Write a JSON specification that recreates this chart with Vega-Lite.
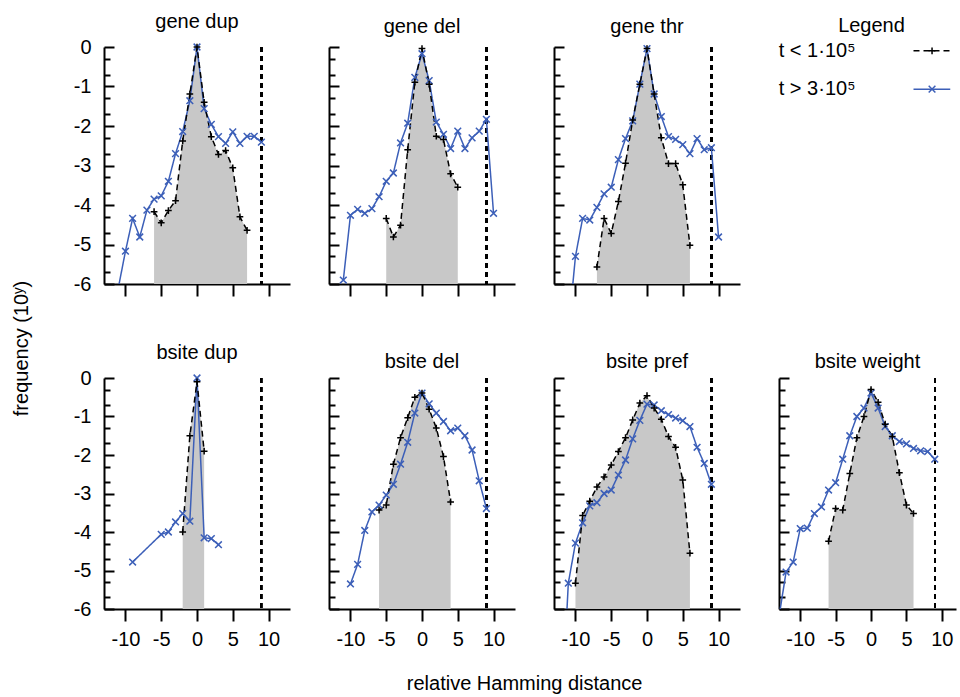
{
  "$schema": "https://vega.github.io/schema/vega-lite/v6.json",
  "padding": {"left": 12, "top": 12, "right": 0, "bottom": 0},
  "config": {
    "view": {"stroke": null},
    "font": "Liberation Sans",
    "axis": {"domainColor": "black", "domainWidth": 2, "tickColor": "black", "tickWidth": 2, "labelFontSize": 20, "labelColor": "black", "labelFont": "Liberation Sans", "grid": false, "labelOverlap": false, "labelFlush": false, "labelBound": false},
    "title": {"fontSize": 20, "fontWeight": "normal", "font": "Liberation Sans", "color": "black", "frame": "group", "baseline": "alphabetic", "offset": 5},
    "legend": {"disable": true}
  },
  "datasets": {
    "d": [
      {"p":"gene dup","s":"l","x":-11,"y":-6.1},{"p":"gene dup","s":"l","x":-10,"y":-5.17},{"p":"gene dup","s":"l","x":-9,"y":-4.34},{"p":"gene dup","s":"l","x":-8,"y":-4.81},{"p":"gene dup","s":"l","x":-7,"y":-4.13},{"p":"gene dup","s":"l","x":-6,"y":-3.85},{"p":"gene dup","s":"l","x":-5,"y":-3.77},{"p":"gene dup","s":"l","x":-4,"y":-3.4},{"p":"gene dup","s":"l","x":-3,"y":-2.7},{"p":"gene dup","s":"l","x":-2,"y":-2.14},{"p":"gene dup","s":"l","x":-1,"y":-1.36},{"p":"gene dup","s":"l","x":0,"y":0},{"p":"gene dup","s":"l","x":1,"y":-1.56},{"p":"gene dup","s":"l","x":2,"y":-1.96},{"p":"gene dup","s":"l","x":3,"y":-2.27},{"p":"gene dup","s":"l","x":4,"y":-2.44},{"p":"gene dup","s":"l","x":5,"y":-2.15},{"p":"gene dup","s":"l","x":6,"y":-2.44},{"p":"gene dup","s":"l","x":7,"y":-2.26},{"p":"gene dup","s":"l","x":8,"y":-2.26},{"p":"gene dup","s":"l","x":9,"y":-2.41},
      {"p":"gene dup","s":"e","x":-6,"y":-4.17},{"p":"gene dup","s":"e","x":-5,"y":-4.45},{"p":"gene dup","s":"e","x":-4,"y":-4.14},{"p":"gene dup","s":"e","x":-3,"y":-3.89},{"p":"gene dup","s":"e","x":-2,"y":-2.38},{"p":"gene dup","s":"e","x":-1,"y":-1.19},{"p":"gene dup","s":"e","x":0,"y":0},{"p":"gene dup","s":"e","x":1,"y":-1.4},{"p":"gene dup","s":"e","x":2,"y":-2.27},{"p":"gene dup","s":"e","x":3,"y":-2.72},{"p":"gene dup","s":"e","x":4,"y":-2.62},{"p":"gene dup","s":"e","x":5,"y":-3.06},{"p":"gene dup","s":"e","x":6,"y":-4.3},{"p":"gene dup","s":"e","x":7,"y":-4.64},
      {"p":"gene del","s":"l","x":-11,"y":-5.9},{"p":"gene del","s":"l","x":-10,"y":-4.26},{"p":"gene del","s":"l","x":-9,"y":-4.11},{"p":"gene del","s":"l","x":-8,"y":-4.21},{"p":"gene del","s":"l","x":-7,"y":-4.09},{"p":"gene del","s":"l","x":-6,"y":-3.79},{"p":"gene del","s":"l","x":-5,"y":-3.4},{"p":"gene del","s":"l","x":-4,"y":-3.19},{"p":"gene del","s":"l","x":-3,"y":-2.43},{"p":"gene del","s":"l","x":-2,"y":-1.93},{"p":"gene del","s":"l","x":-1,"y":-0.77},{"p":"gene del","s":"l","x":0,"y":-0.17},{"p":"gene del","s":"l","x":1,"y":-0.85},{"p":"gene del","s":"l","x":2,"y":-1.9},{"p":"gene del","s":"l","x":3,"y":-2.21},{"p":"gene del","s":"l","x":4,"y":-2.57},{"p":"gene del","s":"l","x":5,"y":-2.13},{"p":"gene del","s":"l","x":6,"y":-2.57},{"p":"gene del","s":"l","x":7,"y":-2.3},{"p":"gene del","s":"l","x":8,"y":-2.13},{"p":"gene del","s":"l","x":9,"y":-1.83},{"p":"gene del","s":"l","x":10,"y":-4.21},
      {"p":"gene del","s":"e","x":-5,"y":-4.34},{"p":"gene del","s":"e","x":-4,"y":-4.81},{"p":"gene del","s":"e","x":-3,"y":-4.51},{"p":"gene del","s":"e","x":-2,"y":-2.6},{"p":"gene del","s":"e","x":-1,"y":-0.89},{"p":"gene del","s":"e","x":0,"y":-0.04},{"p":"gene del","s":"e","x":1,"y":-0.94},{"p":"gene del","s":"e","x":2,"y":-2.26},{"p":"gene del","s":"e","x":3,"y":-2.34},{"p":"gene del","s":"e","x":4,"y":-3.21},{"p":"gene del","s":"e","x":5,"y":-3.55},
      {"p":"gene thr","s":"l","x":-11,"y":-7.2},{"p":"gene thr","s":"l","x":-10,"y":-5.3},{"p":"gene thr","s":"l","x":-9,"y":-4.34},{"p":"gene thr","s":"l","x":-8,"y":-4.38},{"p":"gene thr","s":"l","x":-7,"y":-4.06},{"p":"gene thr","s":"l","x":-6,"y":-3.72},{"p":"gene thr","s":"l","x":-5,"y":-3.55},{"p":"gene thr","s":"l","x":-4,"y":-2.85},{"p":"gene thr","s":"l","x":-3,"y":-2.32},{"p":"gene thr","s":"l","x":-2,"y":-1.87},{"p":"gene thr","s":"l","x":-1,"y":-0.94},{"p":"gene thr","s":"l","x":0,"y":-0.04},{"p":"gene thr","s":"l","x":1,"y":-1.19},{"p":"gene thr","s":"l","x":2,"y":-1.76},{"p":"gene thr","s":"l","x":3,"y":-2.27},{"p":"gene thr","s":"l","x":4,"y":-2.34},{"p":"gene thr","s":"l","x":5,"y":-2.47},{"p":"gene thr","s":"l","x":6,"y":-2.7},{"p":"gene thr","s":"l","x":7,"y":-2.32},{"p":"gene thr","s":"l","x":8,"y":-2.6},{"p":"gene thr","s":"l","x":9,"y":-2.55},{"p":"gene thr","s":"l","x":10,"y":-4.81},
      {"p":"gene thr","s":"e","x":-7,"y":-5.57},{"p":"gene thr","s":"e","x":-6,"y":-4.34},{"p":"gene thr","s":"e","x":-5,"y":-4.72},{"p":"gene thr","s":"e","x":-4,"y":-3.91},{"p":"gene thr","s":"e","x":-3,"y":-2.94},{"p":"gene thr","s":"e","x":-2,"y":-1.85},{"p":"gene thr","s":"e","x":-1,"y":-0.94},{"p":"gene thr","s":"e","x":0,"y":-0.04},{"p":"gene thr","s":"e","x":1,"y":-1.19},{"p":"gene thr","s":"e","x":2,"y":-2.3},{"p":"gene thr","s":"e","x":3,"y":-2.95},{"p":"gene thr","s":"e","x":4,"y":-2.95},{"p":"gene thr","s":"e","x":5,"y":-3.49},{"p":"gene thr","s":"e","x":6,"y":-5.02},
      {"p":"bsite dup","s":"l","x":-9,"y":-4.78},{"p":"bsite dup","s":"l","x":-5,"y":-4.06},{"p":"bsite dup","s":"l","x":-4,"y":-4.0},{"p":"bsite dup","s":"l","x":-3,"y":-3.74},{"p":"bsite dup","s":"l","x":-2,"y":-3.52},{"p":"bsite dup","s":"l","x":-1,"y":-3.72},{"p":"bsite dup","s":"l","x":0,"y":0},{"p":"bsite dup","s":"l","x":1,"y":-4.15},{"p":"bsite dup","s":"l","x":2,"y":-4.17},{"p":"bsite dup","s":"l","x":3,"y":-4.33},
      {"p":"bsite dup","s":"e","x":-2,"y":-4.0},{"p":"bsite dup","s":"e","x":-1,"y":-1.5},{"p":"bsite dup","s":"e","x":0,"y":-0.1},{"p":"bsite dup","s":"e","x":1,"y":-1.9},
      {"p":"bsite del","s":"l","x":-10,"y":-5.35},{"p":"bsite del","s":"l","x":-9,"y":-4.84},{"p":"bsite del","s":"l","x":-8,"y":-3.96},{"p":"bsite del","s":"l","x":-7,"y":-3.48},{"p":"bsite del","s":"l","x":-6,"y":-3.3},{"p":"bsite del","s":"l","x":-5,"y":-3.04},{"p":"bsite del","s":"l","x":-4,"y":-2.76},{"p":"bsite del","s":"l","x":-3,"y":-2.24},{"p":"bsite del","s":"l","x":-2,"y":-1.67},{"p":"bsite del","s":"l","x":-1,"y":-0.91},{"p":"bsite del","s":"l","x":0,"y":-0.39},{"p":"bsite del","s":"l","x":1,"y":-0.67},{"p":"bsite del","s":"l","x":2,"y":-0.91},{"p":"bsite del","s":"l","x":3,"y":-1.13},{"p":"bsite del","s":"l","x":4,"y":-1.37},{"p":"bsite del","s":"l","x":5,"y":-1.3},{"p":"bsite del","s":"l","x":6,"y":-1.5},{"p":"bsite del","s":"l","x":7,"y":-1.87},{"p":"bsite del","s":"l","x":8,"y":-2.67},{"p":"bsite del","s":"l","x":9,"y":-3.39},
      {"p":"bsite del","s":"e","x":-6,"y":-3.43},{"p":"bsite del","s":"e","x":-5,"y":-3.3},{"p":"bsite del","s":"e","x":-4,"y":-2.24},{"p":"bsite del","s":"e","x":-3,"y":-1.55},{"p":"bsite del","s":"e","x":-2,"y":-1.03},{"p":"bsite del","s":"e","x":-1,"y":-0.5},{"p":"bsite del","s":"e","x":0,"y":-0.39},{"p":"bsite del","s":"e","x":1,"y":-0.81},{"p":"bsite del","s":"e","x":2,"y":-1.3},{"p":"bsite del","s":"e","x":3,"y":-2.04},{"p":"bsite del","s":"e","x":4,"y":-3.22},
      {"p":"bsite pref","s":"l","x":-12,"y":-9},{"p":"bsite pref","s":"l","x":-11,"y":-5.33},{"p":"bsite pref","s":"l","x":-10,"y":-4.29},{"p":"bsite pref","s":"l","x":-9,"y":-3.76},{"p":"bsite pref","s":"l","x":-8,"y":-3.32},{"p":"bsite pref","s":"l","x":-7,"y":-3.24},{"p":"bsite pref","s":"l","x":-6,"y":-3.0},{"p":"bsite pref","s":"l","x":-5,"y":-2.91},{"p":"bsite pref","s":"l","x":-4,"y":-2.52},{"p":"bsite pref","s":"l","x":-3,"y":-2.13},{"p":"bsite pref","s":"l","x":-2,"y":-1.58},{"p":"bsite pref","s":"l","x":-1,"y":-1.1},{"p":"bsite pref","s":"l","x":0,"y":-0.68},{"p":"bsite pref","s":"l","x":1,"y":-0.7},{"p":"bsite pref","s":"l","x":2,"y":-0.85},{"p":"bsite pref","s":"l","x":3,"y":-0.95},{"p":"bsite pref","s":"l","x":4,"y":-1.04},{"p":"bsite pref","s":"l","x":5,"y":-1.11},{"p":"bsite pref","s":"l","x":6,"y":-1.26},{"p":"bsite pref","s":"l","x":7,"y":-1.8},{"p":"bsite pref","s":"l","x":8,"y":-2.22},{"p":"bsite pref","s":"l","x":9,"y":-2.76},
      {"p":"bsite pref","s":"e","x":-10,"y":-5.33},{"p":"bsite pref","s":"e","x":-9,"y":-3.57},{"p":"bsite pref","s":"e","x":-8,"y":-3.2},{"p":"bsite pref","s":"e","x":-7,"y":-2.83},{"p":"bsite pref","s":"e","x":-6,"y":-2.57},{"p":"bsite pref","s":"e","x":-5,"y":-2.26},{"p":"bsite pref","s":"e","x":-4,"y":-1.91},{"p":"bsite pref","s":"e","x":-3,"y":-1.55},{"p":"bsite pref","s":"e","x":-2,"y":-1.09},{"p":"bsite pref","s":"e","x":-1,"y":-0.65},{"p":"bsite pref","s":"e","x":0,"y":-0.46},{"p":"bsite pref","s":"e","x":1,"y":-0.78},{"p":"bsite pref","s":"e","x":2,"y":-1.07},{"p":"bsite pref","s":"e","x":3,"y":-1.52},{"p":"bsite pref","s":"e","x":4,"y":-1.8},{"p":"bsite pref","s":"e","x":5,"y":-2.65},{"p":"bsite pref","s":"e","x":6,"y":-4.55},
      {"p":"bsite weight","s":"l","x":-13,"y":-6.2},{"p":"bsite weight","s":"l","x":-12,"y":-5.04},{"p":"bsite weight","s":"l","x":-11,"y":-4.78},{"p":"bsite weight","s":"l","x":-10,"y":-3.91},{"p":"bsite weight","s":"l","x":-9,"y":-3.9},{"p":"bsite weight","s":"l","x":-8,"y":-3.52},{"p":"bsite weight","s":"l","x":-7,"y":-3.35},{"p":"bsite weight","s":"l","x":-6,"y":-2.91},{"p":"bsite weight","s":"l","x":-5,"y":-2.72},{"p":"bsite weight","s":"l","x":-4,"y":-2.11},{"p":"bsite weight","s":"l","x":-3,"y":-1.5},{"p":"bsite weight","s":"l","x":-2,"y":-1.0},{"p":"bsite weight","s":"l","x":-1,"y":-0.78},{"p":"bsite weight","s":"l","x":0,"y":-0.39},{"p":"bsite weight","s":"l","x":1,"y":-0.78},{"p":"bsite weight","s":"l","x":2,"y":-1.26},{"p":"bsite weight","s":"l","x":3,"y":-1.5},{"p":"bsite weight","s":"l","x":4,"y":-1.65},{"p":"bsite weight","s":"l","x":5,"y":-1.71},{"p":"bsite weight","s":"l","x":6,"y":-1.83},{"p":"bsite weight","s":"l","x":7,"y":-1.89},{"p":"bsite weight","s":"l","x":8,"y":-1.91},{"p":"bsite weight","s":"l","x":9,"y":-2.11},
      {"p":"bsite weight","s":"e","x":-6,"y":-4.24},{"p":"bsite weight","s":"e","x":-5,"y":-3.39},{"p":"bsite weight","s":"e","x":-4,"y":-3.43},{"p":"bsite weight","s":"e","x":-3,"y":-2.48},{"p":"bsite weight","s":"e","x":-2,"y":-1.55},{"p":"bsite weight","s":"e","x":-1,"y":-1.0},{"p":"bsite weight","s":"e","x":0,"y":-0.3},{"p":"bsite weight","s":"e","x":1,"y":-0.63},{"p":"bsite weight","s":"e","x":2,"y":-1.2},{"p":"bsite weight","s":"e","x":3,"y":-1.52},{"p":"bsite weight","s":"e","x":4,"y":-2.46},{"p":"bsite weight","s":"e","x":5,"y":-3.3},{"p":"bsite weight","s":"e","x":6,"y":-3.52}
    ],
    "leg": [
      {"s": "e", "label": "t < 1·10⁵"},
      {"s": "l", "label": "t > 3·10⁵"}
    ]
  },
  "title": {"text": "relative Hamming distance", "orient": "bottom", "anchor": "middle", "frame": "bounds", "baseline": "top", "offset": 25, "dx": 39},
  "vconcat": [
    {
      "title": {"text": "frequency (10ʸ)", "orient": "left", "anchor": "middle", "frame": "bounds", "offset": 41, "dx": -18},
      "spacing": 46,
      "vconcat": [
        {
          "spacing": 38,
          "hconcat": [
            {
              "width": 186, "height": 237, "title": "gene dup",
              "data": {"name": "d"},
              "transform": [{"filter": "datum.p === 'gene dup'"}],
              "encoding": {
                "x": {"field": "x", "type": "quantitative", "scale": {"domain": [-13, 13], "nice": false, "zero": false}, "axis": {"title": null, "values": [-10, -5, 0, 5, 10], "tickSize": 12, "labels": false}},
                "y": {"field": "y", "type": "quantitative", "scale": {"domain": [-6, 0], "nice": false, "zero": false}, "axis": {"title": null, "values": [0, -0.301, -0.699, -1, -1.301, -1.699, -2, -2.301, -2.699, -3, -3.301, -3.699, -4, -4.301, -4.699, -5, -5.301, -5.699, -6], "labelExpr": "datum.value % 1 === 0 ? '' + datum.value : ''", "tickSize": {"condition": {"test": "datum.value % 1 === 0", "value": -10}, "value": -6}, "labelPadding": 23, "labelBaseline": "middle"}}
              },
              "layer": [
                {"transform": [{"filter": "datum.s === 'e'"}], "mark": {"type": "area", "color": "#c8c8c8"}, "encoding": {"y2": {"datum": -6}}},
                {"mark": {"type": "rule", "color": "black", "strokeWidth": 1.5, "strokeDash": [5, 4]}, "encoding": {"x": {"datum": 9}, "y": {"datum": 0}, "y2": {"datum": -6}}},
                {"mark": {"type": "line", "strokeWidth": 1.5, "clip": true}, "encoding": {"color": {"field": "s", "type": "nominal", "scale": {"domain": ["e", "l"], "range": ["#000000", "#3c5fb8"]}}, "strokeDash": {"field": "s", "type": "nominal", "scale": {"domain": ["e", "l"], "range": [[6, 4], [1, 0]]}}}},
                {"transform": [{"filter": "datum.y >= -6"}], "mark": {"type": "point", "filled": false, "strokeWidth": 1.5, "size": 45, "opacity": 1}, "encoding": {"color": {"field": "s", "type": "nominal"}, "shape": {"field": "s", "type": "nominal", "scale": {"domain": ["e", "l"], "range": ["M-1,0H1M0,-1V1", "M-1,-1L1,1M-1,1L1,-1"]}}}}
              ]
            },
            {
              "width": 186, "height": 237, "title": "gene del",
              "data": {"name": "d"},
              "transform": [{"filter": "datum.p === 'gene del'"}],
              "encoding": {
                "x": {"field": "x", "type": "quantitative", "scale": {"domain": [-13, 13], "nice": false, "zero": false}, "axis": {"title": null, "values": [-10, -5, 0, 5, 10], "tickSize": 12, "labels": false}},
                "y": {"field": "y", "type": "quantitative", "scale": {"domain": [-6, 0], "nice": false, "zero": false}, "axis": {"title": null, "values": [0, -0.301, -0.699, -1, -1.301, -1.699, -2, -2.301, -2.699, -3, -3.301, -3.699, -4, -4.301, -4.699, -5, -5.301, -5.699, -6], "labels": false, "tickSize": {"condition": {"test": "datum.value % 1 === 0", "value": -10}, "value": -6}}}
              },
              "layer": [
                {"transform": [{"filter": "datum.s === 'e'"}], "mark": {"type": "area", "color": "#c8c8c8"}, "encoding": {"y2": {"datum": -6}}},
                {"mark": {"type": "rule", "color": "black", "strokeWidth": 1.5, "strokeDash": [5, 4]}, "encoding": {"x": {"datum": 9}, "y": {"datum": 0}, "y2": {"datum": -6}}},
                {"mark": {"type": "line", "strokeWidth": 1.5, "clip": true}, "encoding": {"color": {"field": "s", "type": "nominal"}, "strokeDash": {"field": "s", "type": "nominal"}}},
                {"transform": [{"filter": "datum.y >= -6"}], "mark": {"type": "point", "filled": false, "strokeWidth": 1.5, "size": 45, "opacity": 1}, "encoding": {"color": {"field": "s", "type": "nominal"}, "shape": {"field": "s", "type": "nominal"}}}
              ]
            },
            {
              "width": 186, "height": 237, "title": "gene thr",
              "data": {"name": "d"},
              "transform": [{"filter": "datum.p === 'gene thr'"}],
              "encoding": {
                "x": {"field": "x", "type": "quantitative", "scale": {"domain": [-13, 13], "nice": false, "zero": false}, "axis": {"title": null, "values": [-10, -5, 0, 5, 10], "tickSize": 12, "labels": false}},
                "y": {"field": "y", "type": "quantitative", "scale": {"domain": [-6, 0], "nice": false, "zero": false}, "axis": {"title": null, "values": [0, -0.301, -0.699, -1, -1.301, -1.699, -2, -2.301, -2.699, -3, -3.301, -3.699, -4, -4.301, -4.699, -5, -5.301, -5.699, -6], "labels": false, "tickSize": {"condition": {"test": "datum.value % 1 === 0", "value": -10}, "value": -6}}}
              },
              "layer": [
                {"transform": [{"filter": "datum.s === 'e'"}], "mark": {"type": "area", "color": "#c8c8c8"}, "encoding": {"y2": {"datum": -6}}},
                {"mark": {"type": "rule", "color": "black", "strokeWidth": 1.5, "strokeDash": [5, 4]}, "encoding": {"x": {"datum": 9}, "y": {"datum": 0}, "y2": {"datum": -6}}},
                {"mark": {"type": "line", "strokeWidth": 1.5, "clip": true}, "encoding": {"color": {"field": "s", "type": "nominal"}, "strokeDash": {"field": "s", "type": "nominal"}}},
                {"transform": [{"filter": "datum.y >= -6"}], "mark": {"type": "point", "filled": false, "strokeWidth": 1.5, "size": 45, "opacity": 1}, "encoding": {"color": {"field": "s", "type": "nominal"}, "shape": {"field": "s", "type": "nominal"}}}
              ]
            },
            {
              "width": 175, "height": 46, "title": "Legend",
              "data": {"name": "leg"},
              "encoding": {
                "y": {"field": "s", "type": "nominal", "scale": {"type": "point", "domain": ["e", "l"], "padding": 0.1}, "axis": null}
              },
              "layer": [
                {"mark": {"type": "text", "align": "left", "baseline": "middle", "fontSize": 20, "font": "Liberation Sans", "color": "black"}, "encoding": {"x": {"datum": -0.03, "type": "quantitative", "scale": {"domain": [0, 1], "nice": false, "zero": false}, "axis": null}, "text": {"field": "label"}}},
                {"mark": {"type": "rule", "strokeWidth": 1.5}, "encoding": {"x": {"datum": 0.74}, "x2": {"datum": 0.95}, "color": {"field": "s", "type": "nominal"}, "strokeDash": {"field": "s", "type": "nominal"}}},
                {"mark": {"type": "point", "filled": false, "strokeWidth": 1.5, "size": 45, "opacity": 1}, "encoding": {"x": {"datum": 0.846}, "color": {"field": "s", "type": "nominal"}, "shape": {"field": "s", "type": "nominal"}}}
              ]
            }
          ]
        },
        {
          "spacing": 38,
          "hconcat": [
            {
              "width": 186, "height": 231, "title": "bsite dup",
              "data": {"name": "d"},
              "transform": [{"filter": "datum.p === 'bsite dup'"}],
              "encoding": {
                "x": {"field": "x", "type": "quantitative", "scale": {"domain": [-13, 13], "nice": false, "zero": false}, "axis": {"title": null, "values": [-10, -5, 0, 5, 10], "tickSize": 12, "labelPadding": 8, "labelExpr": "'' + datum.value"}},
                "y": {"field": "y", "type": "quantitative", "scale": {"domain": [-6, 0], "nice": false, "zero": false}, "axis": {"title": null, "values": [0, -0.301, -0.699, -1, -1.301, -1.699, -2, -2.301, -2.699, -3, -3.301, -3.699, -4, -4.301, -4.699, -5, -5.301, -5.699, -6], "labelExpr": "datum.value % 1 === 0 ? '' + datum.value : ''", "tickSize": {"condition": {"test": "datum.value % 1 === 0", "value": -10}, "value": -6}, "labelPadding": 23, "labelBaseline": "middle"}}
              },
              "layer": [
                {"transform": [{"filter": "datum.s === 'e'"}], "mark": {"type": "area", "color": "#c8c8c8"}, "encoding": {"y2": {"datum": -6}}},
                {"mark": {"type": "rule", "color": "black", "strokeWidth": 1.5, "strokeDash": [5, 4]}, "encoding": {"x": {"datum": 9}, "y": {"datum": 0}, "y2": {"datum": -6}}},
                {"mark": {"type": "line", "strokeWidth": 1.5, "clip": true}, "encoding": {"color": {"field": "s", "type": "nominal"}, "strokeDash": {"field": "s", "type": "nominal"}}},
                {"transform": [{"filter": "datum.y >= -6"}], "mark": {"type": "point", "filled": false, "strokeWidth": 1.5, "size": 45, "opacity": 1}, "encoding": {"color": {"field": "s", "type": "nominal"}, "shape": {"field": "s", "type": "nominal"}}}
              ]
            },
            {
              "width": 186, "height": 231, "title": "bsite del",
              "data": {"name": "d"},
              "transform": [{"filter": "datum.p === 'bsite del'"}],
              "encoding": {
                "x": {"field": "x", "type": "quantitative", "scale": {"domain": [-13, 13], "nice": false, "zero": false}, "axis": {"title": null, "values": [-10, -5, 0, 5, 10], "tickSize": 12, "labelPadding": 8, "labelExpr": "'' + datum.value"}},
                "y": {"field": "y", "type": "quantitative", "scale": {"domain": [-6, 0], "nice": false, "zero": false}, "axis": {"title": null, "values": [0, -0.301, -0.699, -1, -1.301, -1.699, -2, -2.301, -2.699, -3, -3.301, -3.699, -4, -4.301, -4.699, -5, -5.301, -5.699, -6], "labels": false, "tickSize": {"condition": {"test": "datum.value % 1 === 0", "value": -10}, "value": -6}}}
              },
              "layer": [
                {"transform": [{"filter": "datum.s === 'e'"}], "mark": {"type": "area", "color": "#c8c8c8"}, "encoding": {"y2": {"datum": -6}}},
                {"mark": {"type": "rule", "color": "black", "strokeWidth": 1.5, "strokeDash": [5, 4]}, "encoding": {"x": {"datum": 9}, "y": {"datum": 0}, "y2": {"datum": -6}}},
                {"mark": {"type": "line", "strokeWidth": 1.5, "clip": true}, "encoding": {"color": {"field": "s", "type": "nominal"}, "strokeDash": {"field": "s", "type": "nominal"}}},
                {"transform": [{"filter": "datum.y >= -6"}], "mark": {"type": "point", "filled": false, "strokeWidth": 1.5, "size": 45, "opacity": 1}, "encoding": {"color": {"field": "s", "type": "nominal"}, "shape": {"field": "s", "type": "nominal"}}}
              ]
            },
            {
              "width": 186, "height": 231, "title": "bsite pref",
              "data": {"name": "d"},
              "transform": [{"filter": "datum.p === 'bsite pref'"}],
              "encoding": {
                "x": {"field": "x", "type": "quantitative", "scale": {"domain": [-13, 13], "nice": false, "zero": false}, "axis": {"title": null, "values": [-10, -5, 0, 5, 10], "tickSize": 12, "labelPadding": 8, "labelExpr": "'' + datum.value"}},
                "y": {"field": "y", "type": "quantitative", "scale": {"domain": [-6, 0], "nice": false, "zero": false}, "axis": {"title": null, "values": [0, -0.301, -0.699, -1, -1.301, -1.699, -2, -2.301, -2.699, -3, -3.301, -3.699, -4, -4.301, -4.699, -5, -5.301, -5.699, -6], "labels": false, "tickSize": {"condition": {"test": "datum.value % 1 === 0", "value": -10}, "value": -6}}}
              },
              "layer": [
                {"transform": [{"filter": "datum.s === 'e'"}], "mark": {"type": "area", "color": "#c8c8c8"}, "encoding": {"y2": {"datum": -6}}},
                {"mark": {"type": "rule", "color": "black", "strokeWidth": 1.5, "strokeDash": [5, 4]}, "encoding": {"x": {"datum": 9}, "y": {"datum": 0}, "y2": {"datum": -6}}},
                {"mark": {"type": "line", "strokeWidth": 1.5, "clip": true}, "encoding": {"color": {"field": "s", "type": "nominal"}, "strokeDash": {"field": "s", "type": "nominal"}}},
                {"transform": [{"filter": "datum.y >= -6"}], "mark": {"type": "point", "filled": false, "strokeWidth": 1.5, "size": 45, "opacity": 1}, "encoding": {"color": {"field": "s", "type": "nominal"}, "shape": {"field": "s", "type": "nominal"}}}
              ]
            },
            {
              "width": 177, "height": 231, "title": "bsite weight",
              "data": {"name": "d"},
              "transform": [{"filter": "datum.p === 'bsite weight'"}],
              "encoding": {
                "x": {"field": "x", "type": "quantitative", "scale": {"domain": [-13, 12], "nice": false, "zero": false}, "axis": {"title": null, "values": [-10, -5, 0, 5, 10], "tickSize": 12, "labelPadding": 8, "labelExpr": "'' + datum.value"}},
                "y": {"field": "y", "type": "quantitative", "scale": {"domain": [-6, 0], "nice": false, "zero": false}, "axis": {"title": null, "values": [0, -0.301, -0.699, -1, -1.301, -1.699, -2, -2.301, -2.699, -3, -3.301, -3.699, -4, -4.301, -4.699, -5, -5.301, -5.699, -6], "labels": false, "tickSize": {"condition": {"test": "datum.value % 1 === 0", "value": -10}, "value": -6}}}
              },
              "layer": [
                {"transform": [{"filter": "datum.s === 'e'"}], "mark": {"type": "area", "color": "#c8c8c8"}, "encoding": {"y2": {"datum": -6}}},
                {"mark": {"type": "rule", "color": "black", "strokeWidth": 1.5, "strokeDash": [5, 4]}, "encoding": {"x": {"datum": 9}, "y": {"datum": 0}, "y2": {"datum": -6}}},
                {"mark": {"type": "line", "strokeWidth": 1.5, "clip": true}, "encoding": {"color": {"field": "s", "type": "nominal"}, "strokeDash": {"field": "s", "type": "nominal"}}},
                {"transform": [{"filter": "datum.y >= -6"}], "mark": {"type": "point", "filled": false, "strokeWidth": 1.5, "size": 45, "opacity": 1}, "encoding": {"color": {"field": "s", "type": "nominal"}, "shape": {"field": "s", "type": "nominal"}}}
              ]
            }
          ]
        }
      ]
    }
  ]
}
